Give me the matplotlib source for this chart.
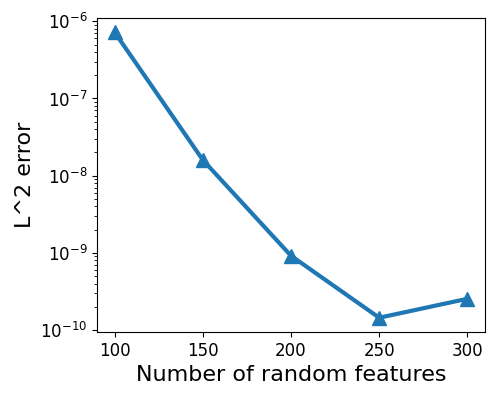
import matplotlib
matplotlib.use('Agg')
import matplotlib.pyplot as plt

# number of random features vs L^2 error
n_features = [100, 150, 200, 250, 300]
l2_error = [7.2e-7, 1.6e-8, 9.2e-10, 1.45e-10, 2.55e-10]

fig = plt.figure(figsize=(5, 4), dpi=100)
ax = fig.add_subplot(111)
ax.plot(n_features, l2_error, marker='^', markersize=10, linewidth=3, color='#1f77b4')
ax.set_yscale('log')
ax.set_xlabel('Number of random features', fontsize=16)
ax.set_ylabel('L^2 error', fontsize=16)
ax.tick_params(axis='both', which='major', labelsize=12)
fig.subplots_adjust(left=0.194, right=0.97, bottom=0.17, top=0.955)
fig.savefig('out.png', dpi=100)
